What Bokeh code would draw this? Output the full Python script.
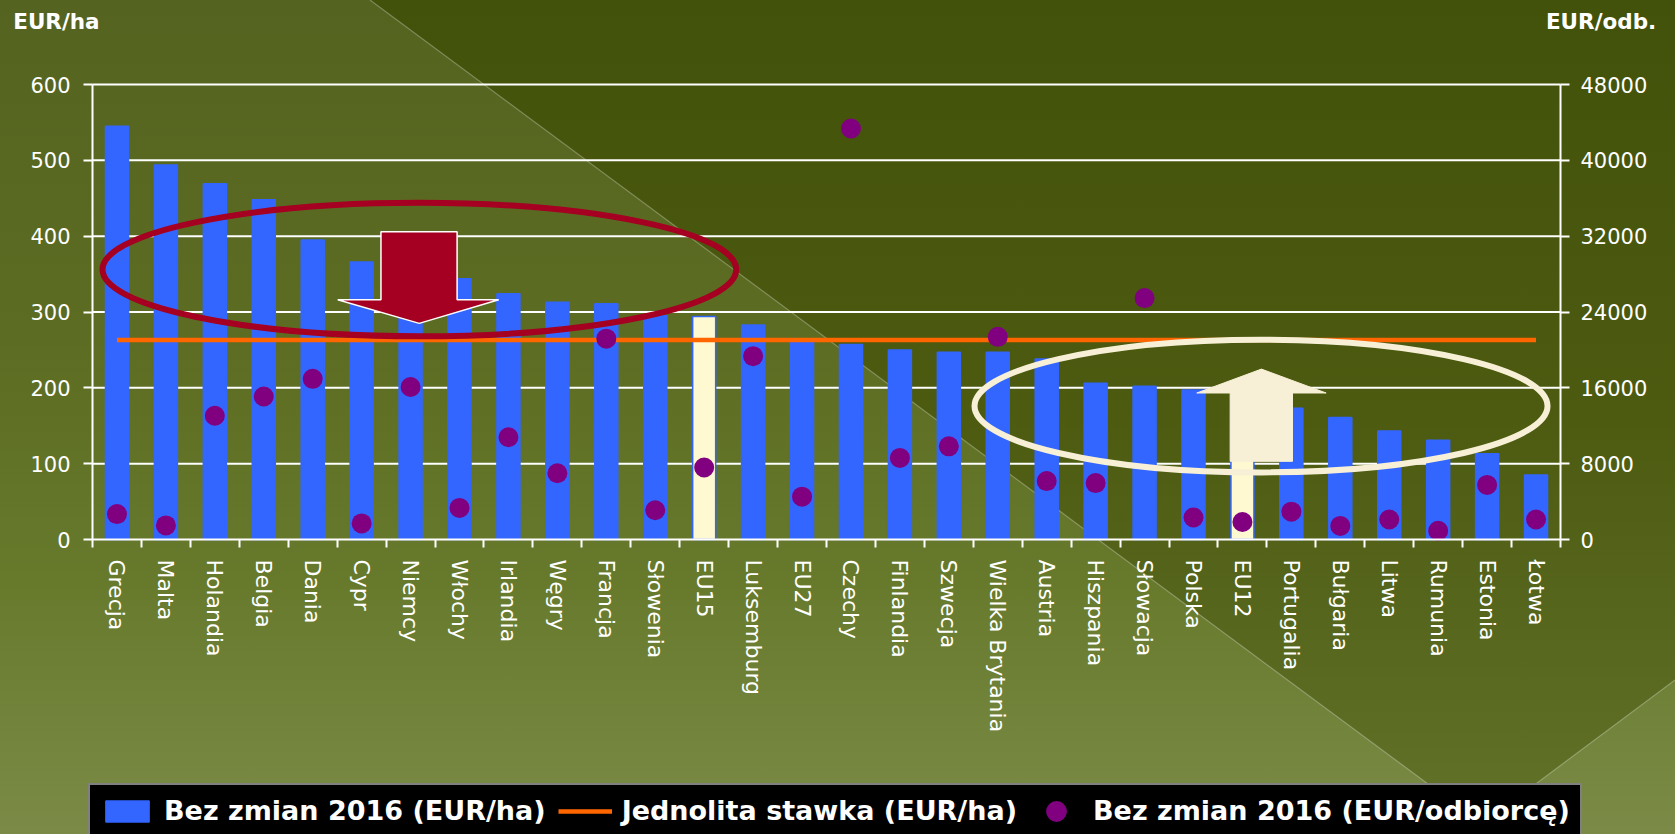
from urllib.parse import quote
from bokeh.plotting import figure
from bokeh.models import (Range1d, LinearAxis, FixedTicker, Legend, LegendItem,
                          Label, ColumnDataSource)
from bokeh.embed import file_html
from bokeh.resources import INLINE

# ---------------- data ----------------
categories = ["Grecja", "Malta", "Holandia", "Belgia", "Dania", "Cypr", "Niemcy",
              "Włochy", "Irlandia", "Węgry", "Francja", "Słowenia", "EU15",
              "Luksemburg", "EU27", "Czechy", "Finlandia", "Szwecja",
              "Wielka Brytania", "Austria", "Hiszpania", "Słowacja", "Polska",
              "EU12", "Portugalia", "Bułgaria", "Litwa", "Rumunia", "Estonia", "Łotwa"]

eur_ha = [545, 494, 469, 448, 395, 366, 355, 344, 324, 313, 311, 295, 294, 283,
          262, 257, 250, 247, 247, 238, 206, 202, 197, 190, 173, 161, 143, 131, 113, 85]

eur_odb = [2680, 1490, 13050, 15090, 16950, 1700, 16090, 3330, 10790, 6990, 21190,
           3090, 7590, 19340, 4520, 43360, 8610, 9830, 21380, 6160, 5950, 25470,
           2320, 1850, 2940, 1430, 2110, 920, 5760, 2110]

flat_rate = 263
highlight = ["EU15", "EU12"]

left_ticks = [0, 100, 200, 300, 400, 500, 600]
right_ticks = [0, 8000, 16000, 24000, 32000, 40000, 48000]

series_names = ["Bez zmian 2016 (EUR/ha)", "Jednolita stawka (EUR/ha)",
                "Bez zmian 2016 (EUR/odbiorcę)"]
unit_titles = ["EUR/ha", "EUR/odb."]

# annotation shapes (data coordinates)
red_ellipse = dict(x=6.18, y=356, w=12.95, h=176)
cream_ellipse = dict(x=23.38, y=176, w=11.71, h=175)
red_arrow_x = [5.395, 6.951, 6.951, 7.802, 6.177, 4.511, 5.395]
red_arrow_y = [405.7, 405.7, 316.2, 316.2, 285.0, 316.2, 316.2]
cream_arrow_x = [22.749, 24.023, 24.023, 24.71, 23.388, 22.067, 22.749]
cream_arrow_y = [103.1, 103.1, 193.2, 193.2, 224.7, 193.2, 193.2]

# ---------------- colours ----------------
BLUE = "#3366FF"
CREAM = "#FFF9D2"
ORANGE = "#FF6600"
PURPLE = "#800080"
DARKRED = "#A50021"
CREAM_LINE = "#F8F0D6"

W, H = 1675, 834
# plot area inside the canvas (pixels): left, right, top, bottom
PL, PR, PT, PB = 92, 1560, 84, 539

n = len(categories)
x_lo, x_hi = -0.5, n - 0.5
px_per_x = (PR - PL) / (x_hi - x_lo)
px_per_y = (PB - PT) / (left_ticks[-1] - left_ticks[0])
xr = Range1d(x_lo - PL / px_per_x, x_hi + (W - PR) / px_per_x)
yr = Range1d(left_ticks[0] - (H - PB) / px_per_y, left_ticks[-1] + PT / px_per_y)
k = right_ticks[-1] / left_ticks[-1]
yr_right = Range1d(yr.start * k, yr.end * k)

svg = (
    "<svg xmlns='http://www.w3.org/2000/svg' width='1675' height='834' "
    "viewBox='0 0 1675 834' preserveAspectRatio='none'>"
    "<defs>"
    "<linearGradient id='a' gradientUnits='userSpaceOnUse' x1='0' y1='0' x2='0' y2='834'>"
    "<stop offset='0' stop-color='#546420'/><stop offset='0.4' stop-color='#5c6c22'/>"
    "<stop offset='0.7' stop-color='#677a2c'/><stop offset='1' stop-color='#7b8b47'/>"
    "</linearGradient>"
    "<linearGradient id='b' gradientUnits='userSpaceOnUse' x1='0' y1='0' x2='0' y2='834'>"
    "<stop offset='0' stop-color='#43520a'/><stop offset='0.5' stop-color='#4c5b10'/>"
    "<stop offset='0.85' stop-color='#5b6b22'/><stop offset='1' stop-color='#637429'/>"
    "</linearGradient>"
    "</defs>"
    "<rect x='0' y='0' width='1675' height='834' fill='url(#a)'/>"
    "<polygon points='370,0 1675,0 1675,680 1482,824' fill='url(#b)'/>"
    "<polyline points='370,0 1482,824 1675,680' fill='none' stroke='rgba(255,255,255,0.28)' stroke-width='1.2'/>"
    "</svg>"
)

p = figure(width=W, height=H, output_backend="svg", toolbar_location=None,
           x_range=xr, y_range=yr, min_border=0,
           background_fill_alpha=0, border_fill_alpha=0, outline_line_color=None,
           styles={"background-image": 'url("data:image/svg+xml,' + quote(svg) + '")',
                   "background-size": "100% 100%"})
p.extra_y_ranges = {"right": yr_right}
p.xgrid.visible = False
p.ygrid.visible = False

xs = list(range(n))
fills = [CREAM if c in highlight else BLUE for c in categories]
source = ColumnDataSource(dict(x=xs, cat=categories, ha=eur_ha, odb=eur_odb,
                               fill=fills))

# horizontal grid lines at the left-axis ticks
grid_y = left_ticks[1:]
p.segment(x0=[x_lo] * len(grid_y), x1=[x_hi] * len(grid_y), y0=grid_y, y1=grid_y,
          line_color="white", line_width=2)

bars = p.vbar(x="x", top="ha", width=0.47, source=source, fill_color="fill",
              line_color=BLUE, line_width=1.5)

rate_line = p.line(x=[xs[0], xs[-1]], y=[flat_rate, flat_rate],
                   line_color=ORANGE, line_width=4.5)

dots = p.ellipse(x="x", y="odb", width=20, height=20, width_units="screen",
                 height_units="screen", fill_color=PURPLE, line_color=None,
                 y_range_name="right", source=source)

# decorations
p.ellipse(x=[red_ellipse["x"]], y=[red_ellipse["y"]], width=[red_ellipse["w"]],
          height=[red_ellipse["h"]], fill_color=None, line_color=DARKRED, line_width=6)
p.ellipse(x=[cream_ellipse["x"]], y=[cream_ellipse["y"]], width=[cream_ellipse["w"]],
          height=[cream_ellipse["h"]], fill_color=None, line_color=CREAM_LINE, line_width=6)
p.patch(red_arrow_x, red_arrow_y, fill_color=DARKRED, line_color="white", line_width=1.5)
p.patch(cream_arrow_x, cream_arrow_y, fill_color=CREAM_LINE, line_color=CREAM_LINE,
        line_width=1)

# ---------------- axes (drawn at fixed positions inside the canvas) ----------------
FONT = "DejaVu Sans"

xa = p.xaxis[0]
xa.fixed_location = left_ticks[0]
xa.bounds = (x_lo, x_hi)
xa.ticker = FixedTicker(ticks=xs, minor_ticks=[i - 0.5 for i in range(n + 1)])
xa.major_label_overrides = {i: c for i, c in zip(xs, categories)}
xa.major_label_orientation = "vertical"
xa.major_tick_out = 0
xa.major_tick_in = 0
xa.minor_tick_out = 8
xa.minor_tick_in = 0
xa.minor_tick_line_color = "white"
xa.minor_tick_line_width = 2
xa.axis_line_color = "white"
xa.axis_line_width = 2
xa.major_label_text_color = "white"
xa.major_label_text_font = FONT
xa.major_label_text_font_size = "22px"
xa.major_label_standoff = 12

ya = p.yaxis[0]
ya.fixed_location = x_lo
ya.bounds = (left_ticks[0], left_ticks[-1])
ya.ticker = FixedTicker(ticks=left_ticks)
ra = LinearAxis(y_range_name="right", ticker=FixedTicker(ticks=right_ticks),
                fixed_location=x_hi, bounds=(right_ticks[0], right_ticks[-1]))
p.add_layout(ra, "right")
for ax, standoff in ((ya, 13), (ra, 11)):
    ax.axis_line_color = "white"
    ax.axis_line_width = 2
    ax.major_tick_line_color = "white"
    ax.major_tick_line_width = 2
    ax.major_tick_out = 9
    ax.major_tick_in = 0
    ax.minor_tick_line_color = None
    ax.major_label_text_color = "white"
    ax.major_label_text_font = FONT
    ax.major_label_text_font_size = "21px"
    ax.major_label_standoff = standoff

# ---------------- unit titles ----------------
title_y = yr.end - 8 / px_per_y
p.add_layout(Label(x=xr.start + 12.7 / px_per_x, y=title_y, text=unit_titles[0],
                   text_color="white", text_font=FONT, text_font_style="bold",
                   text_font_size="21.5px", text_baseline="top", text_align="left"))
p.add_layout(Label(x=xr.start + 1655.7 / px_per_x, y=title_y, text=unit_titles[1],
                   text_color="white", text_font=FONT, text_font_style="bold",
                   text_font_size="21.5px", text_baseline="top", text_align="right"))

# ---------------- legend ----------------
legend = Legend(items=[LegendItem(label=series_names[0], renderers=[bars], index=0),
                       LegendItem(label=series_names[1], renderers=[rate_line]),
                       LegendItem(label=series_names[2], renderers=[dots], index=0)],
                orientation="horizontal", location=(88, -4),
                background_fill_color="black", background_fill_alpha=1,
                border_line_color="white", border_line_width=2,
                label_text_color="white", label_text_font=FONT,
                label_text_font_style="bold", label_text_font_size="27px",
                glyph_width=54, glyph_height=26, label_standoff=10, spacing=12,
                padding=10, margin=0, label_height=24)
p.add_layout(legend)

open("out.html", "w").write(file_html(p, INLINE))
